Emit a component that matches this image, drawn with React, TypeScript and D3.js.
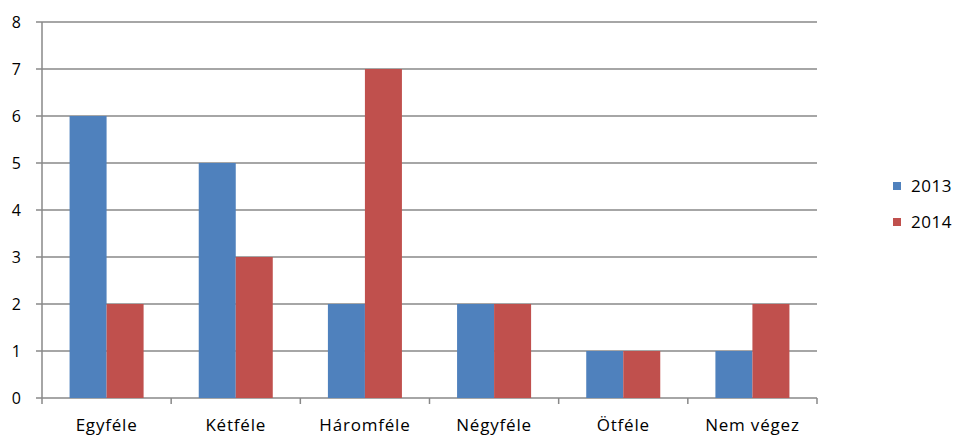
import React from "react";
import * as d3 from "d3";

const categories = ["Egyféle", "Kétféle", "Háromféle", "Négyféle", "Ötféle", "Nem végez"];
const series2013 = [6, 5, 2, 2, 1, 1];
const series2014 = [2, 3, 7, 2, 1, 2];
const seriesNames = ["2013", "2014"];
const yTicks = [0, 1, 2, 3, 4, 5, 6, 7, 8];
const colors = ["#4F81BD", "#C0504D"];

const W = 956, H = 437;
const left = 42, right = 817, top = 22, bottom = 398;

export default function App() {
  const x = d3.scaleBand<string>().domain(categories).range([left, right]).paddingInner(0).paddingOuter(0);
  const inner = d3.scaleBand<string>().domain(seriesNames).range([0, x.bandwidth()]).paddingInner(0).paddingOuter(0.745);
  const y = d3.scaleLinear().domain([0, 8]).range([bottom, top]);
  const data = [series2013, series2014];
  const font = "'Open Sans', 'Liberation Sans', sans-serif";
  return (
    <svg width={W} height={H} style={{ position: "absolute", left: 0, top: 0 }} fontFamily={font}>
      <rect width={W} height={H} fill="#fff" />
      {yTicks.map((t) => (
        <g key={t}>
          <line x1={left - 6} x2={right} y1={y(t)} y2={y(t)} stroke="#888" strokeWidth={1.5} />
          <text x={21} y={y(t)} dy="0.36em" textAnchor="end" fontSize={16} fill="#000">{t}</text>
        </g>
      ))}
      <line x1={left} x2={left} y1={top} y2={bottom} stroke="#888" strokeWidth={1.5} />
      {categories.map((c, i) => (
        <g key={c}>
          {data.map((s, j) => (
            <rect key={j} x={(x(c) as number) + (inner(seriesNames[j]) as number)} width={inner.bandwidth()}
              y={y(s[i])} height={bottom - y(s[i])} fill={colors[j]} />
          ))}
          <text x={(x(c) as number) + x.bandwidth() / 2} y={431} textAnchor="middle" fontSize={17} letterSpacing={0.8} fill="#000">{c}</text>
        </g>
      ))}
      {d3.range(categories.length + 1).map((i) => (
        <line key={i} x1={left + i * x.step()} x2={left + i * x.step()} y1={bottom} y2={bottom + 6} stroke="#888" strokeWidth={1.5} />
      ))}
      {seriesNames.map((n, j) => (
        <g key={n}>
          <rect x={893} y={182 + j * 36} width={8} height={8} fill={colors[j]} />
          <text x={911} y={186 + j * 36} dy="0.36em" fontSize={17} letterSpacing={0.5} fill="#000">{n}</text>
        </g>
      ))}
    </svg>
  );
}
